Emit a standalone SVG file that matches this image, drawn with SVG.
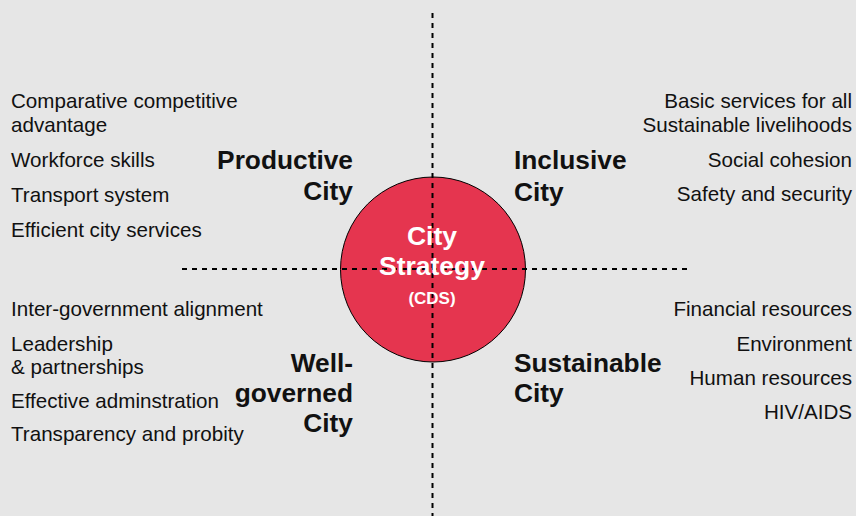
<svg xmlns="http://www.w3.org/2000/svg" width="856" height="516" viewBox="0 0 856 516">
<style>
.item{font-family:"Liberation Sans",Arial,sans-serif;font-size:20.6px;fill:#111}
.r{text-anchor:end}
.title{font-family:"Liberation Sans",Arial,sans-serif;font-size:26.3px;font-weight:bold;fill:#111}
.axis{stroke:#000;stroke-width:2;stroke-dasharray:5 5;fill:none}
.ctr{font-family:"Liberation Sans",Arial,sans-serif;font-weight:bold;fill:#fff;text-anchor:middle}
</style>
<rect width="856" height="516" fill="#e6e6e6"/>
<g id="hub">
<circle cx="433" cy="269.5" r="92.5" fill="#e5354f" stroke="#000" stroke-width="1"/>
</g>
<g id="connectors">
<line class="axis" x1="432.5" y1="13" x2="432.5" y2="516"/>
<line class="axis" x1="182" y1="269" x2="690" y2="269"/>
</g>
<g id="center-label">
<text class="ctr" x="432" y="245" font-size="26.5">City</text>
<text class="ctr" x="432" y="275" font-size="26.5">Strategy</text>
<text class="ctr" x="432" y="304" font-size="17">(CDS)</text>
</g>
<g id="productive">
<text class="title r" x="353" y="169">Productive</text>
<text class="title r" x="353" y="200">City</text>
<text class="item" x="11" y="108">Comparative competitive</text>
<text class="item" x="11" y="132">advantage</text>
<text class="item" x="11" y="167">Workforce skills</text>
<text class="item" x="11" y="202">Transport system</text>
<text class="item" x="11" y="237">Efficient city services</text>
</g>
<g id="inclusive">
<text class="title" x="514" y="169">Inclusive</text>
<text class="title" x="514" y="201">City</text>
<text class="item r" x="852" y="108">Basic services for all</text>
<text class="item r" x="852" y="132">Sustainable livelihoods</text>
<text class="item r" x="852" y="167">Social cohesion</text>
<text class="item r" x="852" y="201">Safety and security</text>
</g>
<g id="well-governed">
<text class="title r" x="353" y="372">Well-</text>
<text class="title r" x="353" y="402">governed</text>
<text class="title r" x="353" y="432">City</text>
<text class="item" x="11" y="316">Inter-government alignment</text>
<text class="item" x="11" y="351">Leadership</text>
<text class="item" x="11" y="374">&amp; partnerships</text>
<text class="item" x="11" y="408">Effective adminstration</text>
<text class="item" x="11" y="441">Transparency and probity</text>
</g>
<g id="sustainable">
<text class="title" x="514" y="372">Sustainable</text>
<text class="title" x="514" y="402">City</text>
<text class="item r" x="852" y="316">Financial resources</text>
<text class="item r" x="852" y="351">Environment</text>
<text class="item r" x="852" y="385">Human resources</text>
<text class="item r" x="852" y="419">HIV/AIDS</text>
</g>
</svg>
